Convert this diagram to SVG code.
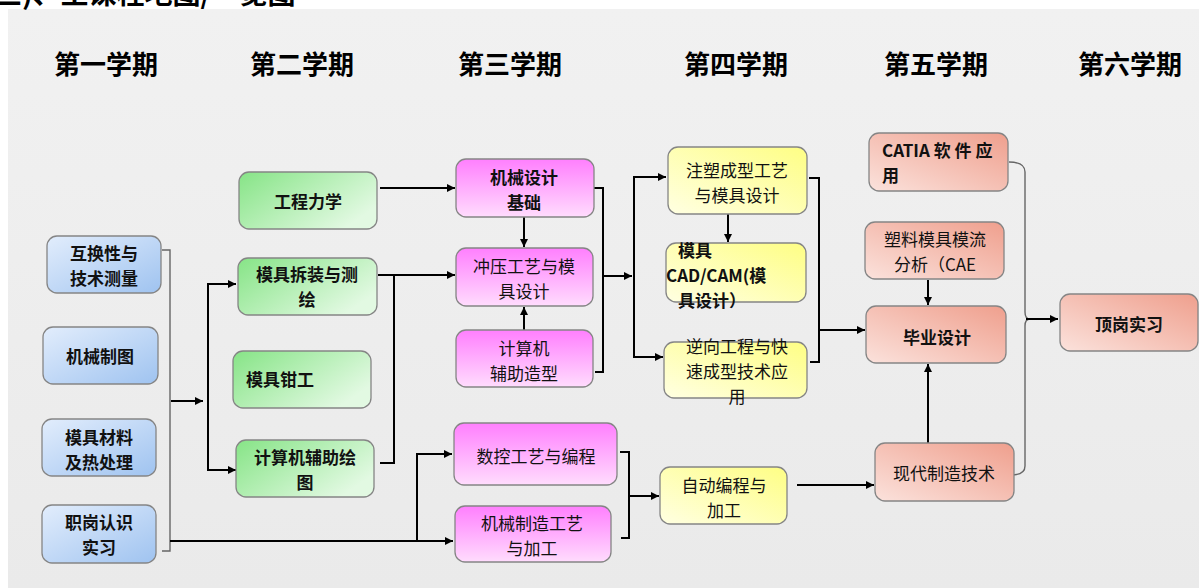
<svg xmlns="http://www.w3.org/2000/svg" width="1199" height="588" viewBox="0 0 1199 588">
<defs>
<linearGradient id="gBlue" x1="0" y1="0" x2="1" y2="1"><stop offset="0" stop-color="#e2edfc"/><stop offset="1" stop-color="#9fc3f0"/></linearGradient>
<linearGradient id="gGreen" x1="0" y1="0" x2="1" y2="0.6"><stop offset="0" stop-color="#86e486"/><stop offset="1" stop-color="#e2f9e2"/></linearGradient>
<linearGradient id="gPink" x1="0" y1="0" x2="0" y2="1"><stop offset="0" stop-color="#ff7ffe"/><stop offset="1" stop-color="#ffdcfd"/></linearGradient>
<linearGradient id="gYellow" x1="0" y1="1" x2="1" y2="0"><stop offset="0" stop-color="#ffffe2"/><stop offset="1" stop-color="#fefe84"/></linearGradient>
<linearGradient id="gSalmon" x1="0" y1="1" x2="1" y2="0"><stop offset="0" stop-color="#fbe2dc"/><stop offset="1" stop-color="#ef9f8d"/></linearGradient>
<linearGradient id="gBg" x1="0" y1="0" x2="0" y2="1"><stop offset="0" stop-color="#f1f1f1"/><stop offset="1" stop-color="#eaeaea"/></linearGradient>
<marker id="arr" markerUnits="userSpaceOnUse" markerWidth="9" markerHeight="8" viewBox="0 0 10 10" refX="10" refY="5" orient="auto"><path d="M0,0 L10,5 L0,10 z" fill="#000"/></marker>
</defs>
<style>
.n{stroke:#858585;stroke-width:1.3}
.blue{fill:url(#gBlue)}
.green{fill:url(#gGreen)}
.pink{fill:url(#gPink)}
.yellow{fill:url(#gYellow)}
.salmon{fill:url(#gSalmon)}
text{font-family:"Noto Sans CJK SC","Noto Sans",sans-serif;fill:#111}
.t{font-size:17px;text-anchor:middle}
.tl{font-size:17px;text-anchor:start}
.b{font-weight:bold}
.h{font-size:26px;font-weight:bold;text-anchor:middle;fill:#000}
.c{fill:none;stroke:#000;stroke-width:2}
.ca{fill:none;stroke:#000;stroke-width:2;marker-end:url(#arr)}
.g{fill:none;stroke:#666;stroke-width:1.4}
</style>
<rect x="0" y="0" width="1199" height="588" fill="#fff"/>
<rect x="8" y="9" width="1191" height="579" fill="url(#gBg)"/>
<text x="-6" y="4" style="font-size:28px;font-weight:bold;fill:#000">三)、主课程地图/一览图</text>

<g id="headers">
<text class="h" x="106" y="74">第一学期</text>
<text class="h" x="302" y="74">第二学期</text>
<text class="h" x="510" y="74">第三学期</text>
<text class="h" x="736" y="74">第四学期</text>
<text class="h" x="936" y="74">第五学期</text>
<text class="h" x="1130" y="74">第六学期</text>
</g>

<g id="connectors">
<path class="g" d="M162,250 H170 V551 H162"/>
<path class="ca" d="M171,401 H203"/>
<path class="c" d="M208,284 V470"/>
<path class="ca" d="M207,284 H236"/>
<path class="ca" d="M207,470 H236"/>
<path class="ca" d="M170,541 H453"/>
<path class="ca" d="M417,541 V454 H452"/>
<path class="ca" d="M380,188 H455"/>
<path class="ca" d="M378,275 H455"/>
<path class="c" d="M380,463 H394 V275"/>
<path class="ca" d="M524,217 V247"/>
<path class="ca" d="M524,330 V307"/>
<path class="c" d="M594,188 H603 V372 H595"/>
<path class="ca" d="M603,276 H632"/>
<path class="c" d="M634,177 V357"/>
<path class="ca" d="M633,177 H666"/>
<path class="ca" d="M633,357 H663"/>
<path class="ca" d="M728,214 V242"/>
<path class="c" d="M809,178 H819 V362 H810"/>
<path class="ca" d="M819,330 H865"/>
<path class="c" d="M620,452 H629 V538 H621"/>
<path class="ca" d="M629,496 H659"/>
<path class="ca" d="M797,485 H874"/>
<path class="ca" d="M928,280 V305"/>
<path class="ca" d="M928,443 V364"/>
<path class="g" d="M1009,162 Q1025,162 1025,172 V312 Q1025,319 1030,319 M1030,319 Q1025,319 1025,326 V466 Q1025,475 1011,475"/>
<path class="ca" d="M1026,319 H1058"/>
</g>

<g id="n1"><rect class="n blue" x="47" y="236" width="114" height="57" rx="10"/><text class="t b" x="104" y="260">互换性与</text><text class="t b" x="104" y="285">技术测量</text></g>
<g id="n2"><rect class="n blue" x="43" y="327" width="115" height="57" rx="10"/><text class="t b" x="100" y="363">机械制图</text></g>
<g id="n3"><rect class="n blue" x="42" y="419" width="114" height="57" rx="10"/><text class="t b" x="99" y="443.5">模具材料</text><text class="t b" x="99" y="468.5">及热处理</text></g>
<g id="n4"><rect class="n blue" x="42" y="505" width="114" height="58" rx="10"/><text class="t b" x="99" y="529">职岗认识</text><text class="t b" x="99" y="554">实习</text></g>

<g id="n5"><rect class="n green" x="239" y="172" width="138" height="57" rx="10"/><text class="t b" x="308" y="208">工程力学</text></g>
<g id="n6"><rect class="n green" x="238" y="258" width="139" height="57" rx="10"/><text class="t b" x="307" y="280.5">模具拆装与测</text><text class="t b" x="307" y="305.5">绘</text></g>
<g id="n7"><rect class="n green" x="233" y="351" width="138" height="57" rx="10"/><text class="tl b" x="246" y="386">模具钳工</text></g>
<g id="n8"><rect class="n green" x="236" y="440" width="138" height="57" rx="10"/><text class="t b" x="305" y="464">计算机辅助绘</text><text class="t b" x="305" y="489">图</text></g>

<g id="n9"><rect class="n pink" x="456" y="159" width="138" height="58" rx="10"/><text class="t b" x="524" y="184">机械设计</text><text class="t b" x="524" y="209">基础</text></g>
<g id="n10"><rect class="n pink" x="456" y="248" width="137" height="58" rx="10"/><text class="t" x="524" y="272.5">冲压工艺与模</text><text class="t" x="524" y="297.5">具设计</text></g>
<g id="n11"><rect class="n pink" x="456" y="330" width="137" height="57" rx="10"/><text class="t" x="524" y="354.5">计算机</text><text class="t" x="524" y="379.5">辅助造型</text></g>
<g id="n12"><rect class="n pink" x="454" y="423" width="163" height="62" rx="10"/><text class="t" x="536" y="463">数控工艺与编程</text></g>
<g id="n13"><rect class="n pink" x="455" y="506" width="156" height="56" rx="10"/><text class="t" x="532" y="529.5">机械制造工艺</text><text class="t" x="532" y="554.5">与加工</text></g>

<g id="n14"><rect class="n yellow" x="668" y="147" width="139" height="67" rx="10"/><text class="t" x="737" y="176.5">注塑成型工艺</text><text class="t" x="737" y="201.5">与模具设计</text></g>
<g id="n15"><rect class="n yellow" x="666" y="243" width="140" height="59" rx="10"/><text class="tl b" x="678" y="256.5">模具</text><text class="tl b" x="666" y="281.5">CAD/CAM(模</text><text class="tl b" x="678" y="306.5">具设计）</text></g>
<g id="n16"><rect class="n yellow" x="664" y="342" width="143" height="56" rx="10"/><text class="t" x="737" y="353">逆向工程与快</text><text class="t" x="737" y="378">速成型技术应</text><text class="t" x="737" y="403">用</text></g>
<g id="n17"><rect class="n yellow" x="660" y="467" width="127" height="57" rx="10"/><text class="t" x="724" y="491.5">自动编程与</text><text class="t" x="724" y="516.5">加工</text></g>

<g id="n18"><rect class="n salmon" x="869" y="133" width="139" height="58" rx="10"/><text class="tl b" x="882" y="156.5">CATIA 软 件 应</text><text class="tl b" x="882" y="181.5">用</text></g>
<g id="n19"><rect class="n salmon" x="865" y="222" width="139" height="57" rx="10"/><text class="t" x="935" y="245.5">塑料模具模流</text><text class="t" x="935" y="270.5">分析（CAE</text></g>
<g id="n20"><rect class="n salmon" x="866" y="306" width="140" height="57" rx="10"/><text class="t b" x="937" y="344">毕业设计</text></g>
<g id="n21"><rect class="n salmon" x="875" y="443" width="139" height="58" rx="10"/><text class="t" x="944" y="480">现代制造技术</text></g>
<g id="n22"><rect class="n salmon" x="1060" y="294" width="138" height="57" rx="10"/><text class="t b" x="1129" y="331">顶岗实习</text></g>
</svg>
